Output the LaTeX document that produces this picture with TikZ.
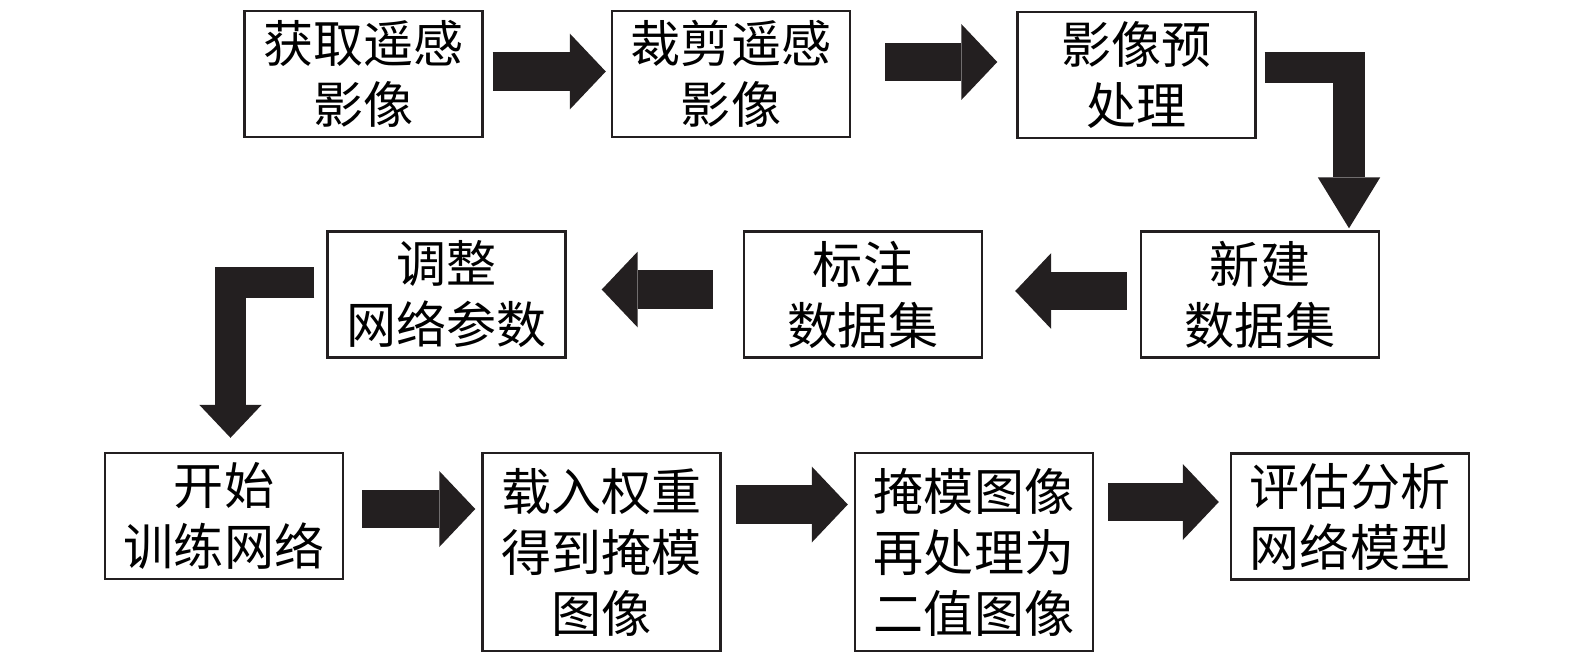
\documentclass[tikz,border=0pt]{standalone}
\usepackage{fontspec}
\setmainfont{Noto Sans CJK SC}
\usepackage{tikz}
\usetikzlibrary{arrows.meta,calc}
\definecolor{ink}{RGB}{35,31,32}
\tikzset{%
  box/.style = {rectangle,draw=ink,line width=0.05cm,minimum width=4.76cm,
        minimum height=2.52cm,align=center,inner sep=0pt,
        font=\fontsize{28.5}{34.7}\selectfont},
  tallbox/.style = {box,minimum height=3.96cm},
  fatarrow/.style = {draw=ink,line width=0.77cm,
        -{Triangle[length=0.72cm,width=1.52cm,line width=0pt]}},
  bentarrow/.style = {draw=ink,line width=0.63cm,
        -{Triangle[length=#1,width=1.25cm,line width=0pt]}}
}
\begin{document}
\begin{tikzpicture}[x=0.02cm,y=-0.02cm]
\useasboundingbox (0,0) rectangle (1575,656);
\node[box] (p1) at (363.5,74) {获取遥感\\影像};
\node[box] (p2) at (731,74) {裁剪遥感\\影像};
\node[box] (p3) at (1136.5,75) {影像预\\处理};
\node[box] (p4) at (1260,294.5) {新建\\数据集};
\node[box] (p5) at (863,294.5) {标注\\数据集};
\node[box] (p6) at (446.5,294.5) {调整\\网络参数};
\node[box] (p7) at (224,516) {开始\\训练网络};
\node[tallbox] (p8) at (601.5,552) {载入权重\\得到掩模\\图像};
\node[tallbox] (p9) at (974,552) {掩模图像\\再处理为\\二值图像};
\node[box] (p10) at (1350,516.5) {评估分析\\网络模型};

\draw[fatarrow] ($(p1.east)+(9,-2.5)$) -- ($(p1.east -| p2.west)+(-5,-2.5)$);
\draw[fatarrow] ($(p2.east)+(34,-12)$) -- ($(p2.east -| p3.west)+(-19,-12)$);
\draw[bentarrow=1.02cm] ($(p3.east)+(8,-7.5)$) -| ($(p4.north)+(89,-2)$);
\draw[fatarrow] ($(p4.west)+(-13,-3.5)$) -- ($(p4.west -| p5.east)+(32,-3.5)$);
\draw[fatarrow] ($(p5.west)+(-30,-5)$) -- ($(p5.west -| p6.east)+(35,-5)$);
\draw[bentarrow=0.66cm] ($(p6.west)+(-12,-12)$) -| ($(p7.north)+(6.5,-14)$);
\draw[fatarrow] ($(p7.east)+(18,-7)$) -- ($(p7.east -| p8.west)+(-6,-7)$);
\draw[fatarrow] ($(p8.east)+(14,-47.5)$) -- ($(p8.east -| p9.west)+(-6,-47.5)$);
\draw[fatarrow] ($(p9.east)+(14,-50)$) -- ($(p9.east -| p10.west)+(-11,-50)$);
\end{tikzpicture}
\end{document}
